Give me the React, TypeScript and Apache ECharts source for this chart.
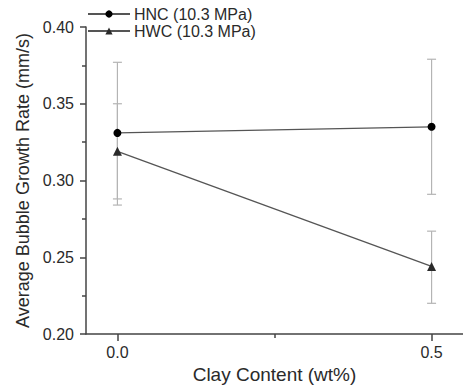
import React, { useEffect, useRef } from "react";
import * as echarts from "echarts";

const clayContent = [0.0, 0.5];
const hncValues = [0.331, 0.335];
const hncErrLow = [0.284, 0.291];
const hncErrHigh = [0.377, 0.379];
const hwcValues = [0.319, 0.244];
const hwcErrLow = [0.288, 0.22];
const hwcErrHigh = [0.35, 0.267];
const xTickLabels = [0.0, 0.5];
const xMinorTicks = [0.25];

const FONT = "Liberation Sans, Arial, sans-serif";

export default function App() {
  const ref = useRef<HTMLDivElement>(null);
  useEffect(() => {
    if (!ref.current) return;
    const chart = echarts.init(ref.current, null, { renderer: "svg" });
    const errData = [
      ...clayContent.map((x, i) => [x, hncErrLow[i], hncErrHigh[i]]),
      ...clayContent.map((x, i) => [x, hwcErrLow[i], hwcErrHigh[i]]),
    ];
    const axisColor = "#444";
    const textColor = "#2a2a2a";
    chart.setOption({
      animation: false,
      textStyle: { fontFamily: FONT },
      grid: { left: 86, right: -5, top: 27, bottom: 52 },
      legend: {
        orient: "vertical",
        left: 82,
        top: 1,
        itemGap: 1,
        itemWidth: 42,
        itemHeight: 9,
        textStyle: { fontFamily: FONT, fontSize: 16, color: textColor, padding: [0, 0, 0, -1] },
        data: ["HNC (10.3 MPa)", "HWC (10.3 MPa)"],
      },
      xAxis: [
        {
          type: "value",
          min: -0.05,
          max: 0.55,
          name: "Clay Content (wt%)",
          nameLocation: "middle",
          nameGap: 31,
          nameTextStyle: { fontFamily: FONT, fontSize: 19, color: textColor },
          axisLine: { onZero: false, lineStyle: { color: axisColor, width: 1.5 } },
          axisTick: { show: true, customValues: xTickLabels, length: 7, lineStyle: { color: axisColor, width: 1.5 } },
          axisLabel: {
            customValues: xTickLabels,
            formatter: (v: number) => v.toFixed(1),
            fontFamily: FONT,
            fontSize: 16,
            color: textColor,
            margin: 10,
          },
          splitLine: { show: false },
        },
        {
          type: "value",
          position: "bottom",
          min: -0.05,
          max: 0.55,
          axisLine: { show: false, onZero: false },
          axisTick: { show: true, customValues: xMinorTicks, length: 4, lineStyle: { color: axisColor, width: 1.5 } },
          axisLabel: { show: false },
          splitLine: { show: false },
        },
      ],
      yAxis: {
        type: "value",
        min: 0.2,
        max: 0.4,
        interval: 0.05,
        name: "Average Bubble Growth Rate (mm/s)",
        nameLocation: "middle",
        nameGap: 52,
        nameTextStyle: { fontFamily: FONT, fontSize: 18, color: textColor },
        axisLine: { show: true, onZero: false, lineStyle: { color: axisColor, width: 1.5 } },
        axisTick: { show: true, length: 6, lineStyle: { color: axisColor, width: 1.5 } },
        minorTick: { show: true, splitNumber: 2, length: 4, lineStyle: { color: axisColor, width: 1.5 } },
        axisLabel: {
          formatter: (v: number) => v.toFixed(2),
          fontFamily: FONT,
          fontSize: 16,
          color: textColor,
          margin: 12,
        },
        splitLine: { show: false },
      },
      series: [
        {
          type: "custom",
          name: "err",
          data: errData,
          z: 1,
          silent: true,
          renderItem: (params: any, api: any) => {
            const x = api.value(0);
            const lo = api.coord([x, api.value(1)]);
            const hi = api.coord([x, api.value(2)]);
            const w = 4.5;
            const style = { stroke: "#b4b4b4", lineWidth: 1.2 };
            return {
              type: "group",
              children: [
                { type: "line", shape: { x1: lo[0], y1: lo[1], x2: hi[0], y2: hi[1] }, style },
                { type: "line", shape: { x1: lo[0] - w, y1: lo[1], x2: lo[0] + w, y2: lo[1] }, style },
                { type: "line", shape: { x1: hi[0] - w, y1: hi[1], x2: hi[0] + w, y2: hi[1] }, style },
              ],
            };
          },
        },
        {
          type: "line",
          name: "HNC (10.3 MPa)",
          data: clayContent.map((x, i) => [x, hncValues[i]]),
          symbol: "circle",
          symbolSize: 8,
          z: 3,
          lineStyle: { color: "#555", width: 1.3 },
          itemStyle: { color: "#000" },
        },
        {
          type: "line",
          name: "HWC (10.3 MPa)",
          data: clayContent.map((x, i) => [x, hwcValues[i]]),
          symbol: "triangle",
          symbolSize: 9,
          z: 3,
          lineStyle: { color: "#555", width: 1.3 },
          itemStyle: { color: "#2a2a2a" },
        },
      ],
    });
    return () => chart.dispose();
  }, []);
  return <div ref={ref} style={{ width: 463, height: 389, position: "absolute", left: 0, top: 0 }} />;
}
